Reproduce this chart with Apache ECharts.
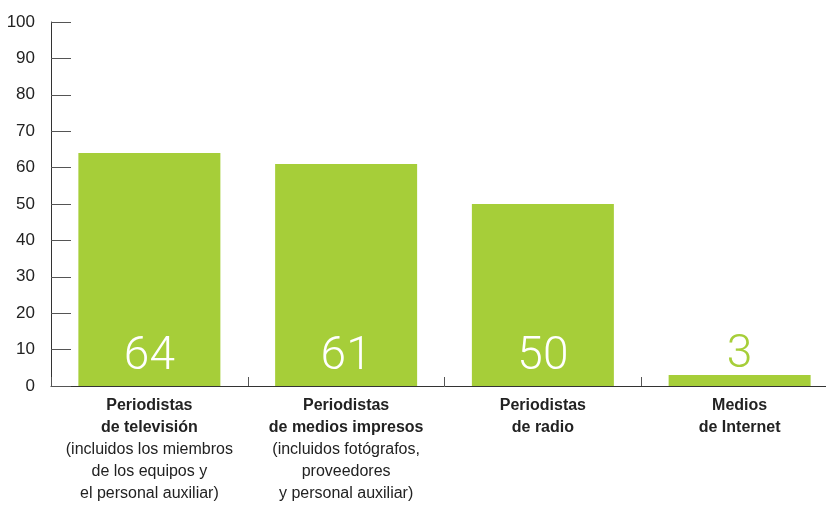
<!DOCTYPE html>
<html>
<head>
<meta charset="utf-8">
<script src="https://cdn.jsdelivr.net/npm/echarts@6/dist/echarts.min.js"></script>
<style>
html,body{margin:0;padding:0;background:#fff;overflow:hidden;width:826px;height:505px;}
#chart{width:838px;height:505px;}
</style>
</head>
<body>
<div id="chart"></div>
<script>
const categories = ['tv', 'print', 'radio', 'internet'];
const titleLines = [
  ['Periodistas', 'de televisión'],
  ['Periodistas', 'de medios impresos'],
  ['Periodistas', 'de radio'],
  ['Medios', 'de Internet']
];
const noteLines = [
  ['(incluidos los miembros', 'de los equipos y', 'el personal auxiliar)'],
  ['(incluidos fotógrafos,', 'proveedores', 'y personal auxiliar)'],
  [],
  []
];
const values = [64, 61, 50, 3];
const yTicks = [0, 10, 20, 30, 40, 50, 60, 70, 80, 90, 100];

const GREEN = '#a6ce39';
const FONT = "'Liberation Sans', Arial, sans-serif";

const chart = echarts.init(document.getElementById('chart'));
chart.setOption({
  animation: false,
  grid: { left: 51, top: 22, bottom: 119, right: 0, containLabel: false },
  xAxis: {
    type: 'category',
    data: categories,
    axisLine: { lineStyle: { color: '#333', width: 1 } },
    axisTick: { show: true, inside: true, length: 9, lineStyle: { color: '#555' } },
    axisLabel: {
      interval: 0,
      margin: 9,
      formatter: function (v, i) {
        const parts = titleLines[i].map(s => '{b|' + s + '}').concat(noteLines[i].map(s => '{r|' + s + '}'));
        return parts.join('\n');
      },
      rich: {
        b: { fontFamily: FONT, fontSize: 16, fontWeight: 'bold', color: '#222', lineHeight: 22 },
        r: { fontFamily: FONT, fontSize: 16, color: '#222', lineHeight: 22 }
      }
    }
  },
  yAxis: {
    type: 'value',
    min: yTicks[0],
    max: yTicks[yTicks.length - 1],
    interval: 10,
    splitLine: { show: false },
    axisLine: { show: true, lineStyle: { color: '#333', width: 1 } },
    axisTick: { show: true, inside: true, length: 20, lineStyle: { color: '#555' } },
    axisLabel: { margin: 16, fontFamily: FONT, fontSize: 17, color: '#222' }
  },
  series: [{
    type: 'bar',
    data: values.map(function (v) {
      const small = v < 10;
      return {
        value: v,
        label: small ? { position: 'top', distance: -3, color: GREEN } : { position: 'insideBottom', distance: 6, color: '#fff' }
      };
    }),
    barWidth: 142,
    itemStyle: { color: GREEN },
    label: {
      show: true,
      fontFamily: "Roboto, 'Liberation Sans', sans-serif",
      fontWeight: 300,
      fontSize: 46
    }
  }]
});
</script>
</body>
</html>
